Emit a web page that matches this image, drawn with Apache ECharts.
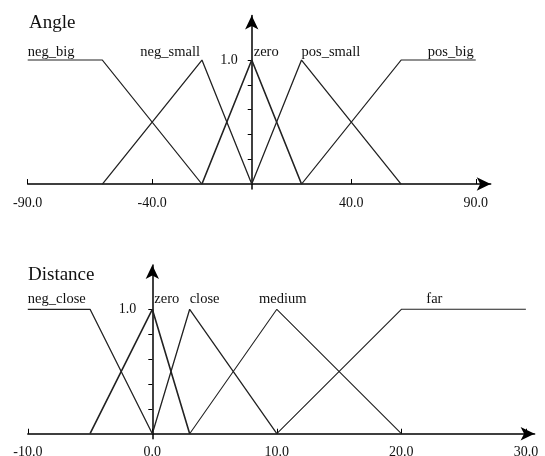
<!DOCTYPE html>
<html>
<head>
<meta charset="utf-8">
<script src="https://cdn.jsdelivr.net/npm/echarts@6/dist/echarts.min.js"></script>
<style>
  html, body { margin: 0; padding: 0; background: #fff; }
  #chart { width: 545px; height: 456px; }
</style>
</head>
<body>
<div id="chart"></div>
<script>
// Angle membership functions (x breakpoints / membership values)
const angleNames = ['neg_big', 'neg_small', 'zero', 'pos_small', 'pos_big']
const angleX = [
  [-90, -60, -20],
  [-60, -20, 0],
  [-20, 0, 20],
  [0, 20, 60],
  [20, 60, 90]
]
const angleY = [
  [1, 1, 0],
  [0, 1, 0],
  [0, 1, 0],
  [0, 1, 0],
  [0, 1, 1]
]
const angleTicks = [-90, -40, 40, 90]

// Distance membership functions
const distNames = ['neg_close', 'zero', 'close', 'medium', 'far']
const distX = [
  [-10, -5, 0],
  [-5, 0, 3],
  [0, 3, 10],
  [3, 10, 20],
  [10, 20, 30]
]
const distY = [
  [1, 1, 0],
  [0, 1, 0],
  [0, 1, 0],
  [0, 1, 0],
  [0, 1, 1]
]
const distTicks = [-10, 0, 10, 20, 30]

const yTicks = [0.2, 0.4, 0.6, 0.8, 1.0]
const yLabels = [1.0]

const FONT = 'Liberation Serif'
const INK = '#000'

// where each name sits: which point, alignment, offset
const angleLabelPos = [
  { at: 0, align: 'left', offset: [0, 0] },
  { at: 1, align: 'right', offset: [-2, 0] },
  { at: 1, align: 'left', offset: [2, 0] },
  { at: 1, align: 'left', offset: [0, 0] },
  { at: 2, align: 'right', offset: [-2, 0] }
]
const distLabelPos = [
  { at: 0, align: 'left', offset: [0, 0] },
  { at: 1, align: 'left', offset: [2, 0] },
  { at: 1, align: 'left', offset: [0, 0] },
  { at: 1, align: 'center', offset: [6, 0] },
  { at: 1, align: 'center', offset: [33, 0] }
]

// grid boxes (px)
const grids = [
  { left: 27.7, top: 15.4, width: 463, height: 173.6 },
  { left: 27.8, top: 265, width: 506.8, height: 173.7 }
]
const xRanges = [[-90, 96], [-10, 30.7]]

function buildSeries(names, xs, ys, pos, gi, widths, dist) {
  return names.map((name, i) => ({
    type: 'line',
    name: name,
    xAxisIndex: gi,
    yAxisIndex: gi,
    symbol: 'circle',
    symbolSize: 0.1,
    showSymbol: true,
    itemStyle: { color: 'rgba(0,0,0,0)' },
    lineStyle: { color: '#222', width: widths[i] },
    silent: true,
    animation: false,
    z: 1,
    data: xs[i].map((x, j) => {
      const p = { value: [x, ys[i][j]] }
      if (j === pos[i].at) {
        p.label = {
          show: true,
          formatter: name,
          position: 'top',
          distance: dist,
          align: pos[i].align,
          offset: pos[i].offset,
          fontFamily: FONT,
          fontSize: 14.5,
          color: '#111'
        }
      }
      return p
    })
  }))
}

function xAxisOf(gi, ticks) {
  return {
    gridIndex: gi,
    type: 'value',
    min: xRanges[gi][0],
    max: xRanges[gi][1],
    axisLine: {
      onZero: true,
      symbol: ['none', 'arrow'],
      symbolSize: [10, 14],
      lineStyle: { color: INK, width: 1.5 }
    },
    axisTick: {
      show: true,
      inside: true,
      length: 5,
      customValues: ticks,
      lineStyle: { color: INK, width: 1 }
    },
    axisLabel: {
      customValues: ticks,
      formatter: v => v.toFixed(1),
      fontFamily: FONT,
      fontSize: 14,
      color: '#111',
      margin: 7
    },
    splitLine: { show: false }
  }
}

function yAxisOf(gi, max, margin) {
  // put the vertical axis where x = 0
  const [x0, x1] = xRanges[gi]
  const shift = (0 - x0) / (x1 - x0) * grids[gi].width
  return {
    gridIndex: gi,
    type: 'value',
    min: -0.04,
    max: max,
    offset: -shift,
    axisLine: {
      show: true,
      onZero: false,
      symbol: ['none', 'arrow'],
      symbolSize: [10, 14],
      lineStyle: { color: INK, width: 1.5 }
    },
    axisTick: {
      show: true,
      length: 4,
      customValues: yTicks,
      lineStyle: { color: INK, width: 1 }
    },
    axisLabel: {
      customValues: yLabels,
      formatter: v => v.toFixed(1),
      fontFamily: FONT,
      fontSize: 14,
      color: '#111',
      margin: margin
    },
    splitLine: { show: false }
  }
}

const chart = echarts.init(document.getElementById('chart'), null, { renderer: 'canvas' })

const option = {
  backgroundColor: '#fff',
  animation: false,
  title: [
    { text: 'Angle', left: 29, top: 14, padding: 0,
      textStyle: { fontFamily: FONT, fontSize: 19, fontWeight: 'normal', color: '#111' } },
    { text: 'Distance', left: 28, top: 266, padding: 0,
      textStyle: { fontFamily: FONT, fontSize: 19, fontWeight: 'normal', color: '#111' } }
  ],
  grid: grids.map(g => Object.assign({ outerBoundsMode: 'none', containLabel: false }, g)),
  xAxis: [
    xAxisOf(0, angleTicks),
    xAxisOf(1, distTicks)
  ],
  yAxis: [
    yAxisOf(0, 1.36, 14),
    yAxisOf(1, 1.356, 16)
  ],
  series: [
    ...buildSeries(angleNames, angleX, angleY, angleLabelPos, 0, [1.1, 1.3, 1.6, 1.3, 1.1], 0),
    ...buildSeries(distNames, distX, distY, distLabelPos, 1, [1.3, 1.6, 1.3, 1.1, 1.1], 3)
  ]
}

chart.setOption(option)
window.addEventListener('resize', () => chart.resize())
</script>
</body>
</html>
